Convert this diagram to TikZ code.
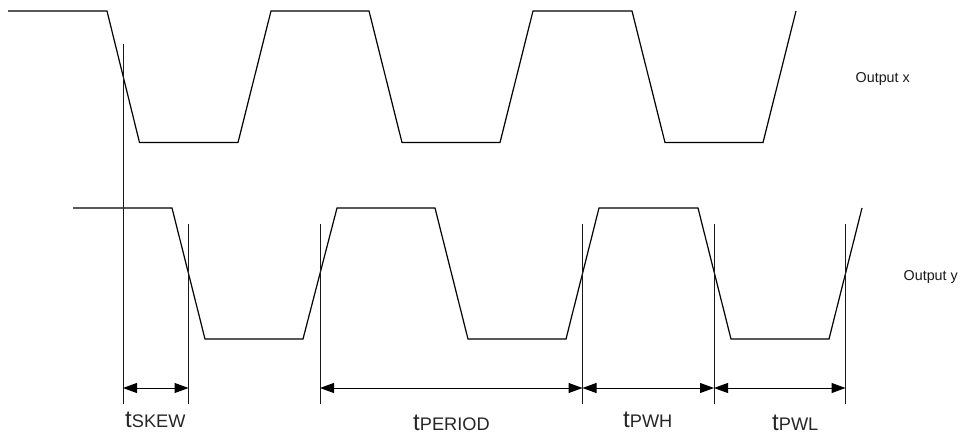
\documentclass[tikz,border=0pt]{standalone}
\usepackage{fontspec}
\setmainfont{Liberation Sans}
\usetikzlibrary{arrows.meta}
\tikzset{
  wave/.style={draw=black,line width=1.2pt,line join=miter},
  guide/.style={draw=black!90,line width=1pt},
  dim/.style={draw=black,line width=1pt,{Triangle[length=14pt,width=10pt]}-{Triangle[length=14pt,width=10pt]}},
  sig/.style={inner sep=0pt,font=\fontsize{14.3}{16}\selectfont,text=black!90},
  tlabel/.style={inner sep=0pt,anchor=base west,text=black!85}
}
\newcommand{\tlab}[1]{{\fontsize{24}{26}\selectfont t}{\fontsize{18.2}{22}\selectfont #1}}
\begin{document}
\begin{tikzpicture}[x=1pt,y=-1pt]
\useasboundingbox (0,0) rectangle (962,434);
% waveforms
\draw[wave] (8,11) -- (107,11) -- (139.5,142.5) -- (238,142.5) -- (271,11) -- (369,11) -- (402,142.5) -- (500,142.5) -- (533,11) -- (632,11) -- (665,142.5) -- (763,142.5) -- (796,11);
\draw[wave] (73,208) -- (172,208) -- (205,339) -- (303,339) -- (337,208) -- (435,208) -- (468,339) -- (566,339) -- (599,208) -- (698,208) -- (731,339) -- (829,339) -- (862,208);
% guide lines
\coordinate (g1t) at (123,44);     \coordinate (g1b) at (123,404);
\coordinate (g2t) at (188.5,224);  \coordinate (g2b) at (188.5,404);
\coordinate (g3t) at (320,224);    \coordinate (g3b) at (320,404);
\coordinate (g4t) at (582.5,224);  \coordinate (g4b) at (582.5,404);
\coordinate (g5t) at (714,224);    \coordinate (g5b) at (714,404);
\coordinate (g6t) at (845.5,224);  \coordinate (g6b) at (845.5,404);
\foreach \g in {1,...,6} \draw[guide] (g\g t) -- (g\g b);
% dimension arrows
\coordinate (a1) at (123,388);
\coordinate (a2) at (188.5,388);
\coordinate (a3) at (320,388);
\coordinate (a4) at (582.5,388);
\coordinate (a5) at (714,388);
\coordinate (a6) at (845.5,388);
\draw[dim] (a1) -- (a2);
\draw[dim] (a3) -- (a4);
\draw[dim] (a4) -- (a5);
\draw[dim] (a5) -- (a6);
% labels
\node[sig,anchor=base west] (ox) at (855.5,82) {Output x};
\node[sig,anchor=base west] (oy) at (903.5,280) {Output y};
\node[tlabel] (ts) at (125,427) {\tlab{SKEW}};
\node[tlabel] (tp) at (413,430) {\tlab{PERIOD}};
\node[tlabel] (th) at (623,427) {\tlab{PWH}};
\node[tlabel] (tl) at (772,430) {\tlab{PWL}};
\end{tikzpicture}
\end{document}
